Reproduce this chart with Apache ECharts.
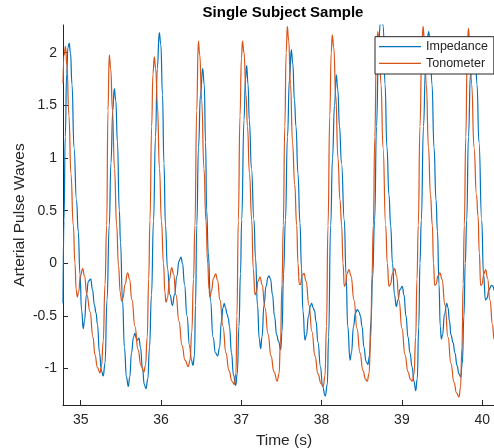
<!DOCTYPE html>
<html>
<head>
<meta charset="utf-8">
<script src="https://cdn.jsdelivr.net/npm/echarts@6/dist/echarts.min.js"></script>
<style>
html,body{margin:0;padding:0;background:#fff;}
#chart{width:494px;height:448px;}
</style>
</head>
<body>
<div id="chart"></div>
<script>
var seriesNames = ['Impedance', 'Tonometer'];
var xTicks = [35, 36, 37, 38, 39, 40];
var yTicks = [-1, -0.5, 0, 0.5, 1, 1.5, 2];

var impTime = [34.780,34.792,34.808,34.826,34.842,34.857,34.873,34.892,34.917,34.948,
34.970,34.991,35.012,35.032,35.047,35.072,35.097,35.125,35.147,35.172,
35.191,35.209,35.234,35.259,35.281,35.303,35.328,35.356,35.377,35.400,
35.418,35.437,35.458,35.481,35.496,35.521,35.545,35.570,35.593,35.611,
35.633,35.658,35.676,35.695,35.707,35.726,35.745,35.770,35.792,35.813,
35.836,35.857,35.882,35.907,35.932,35.954,35.979,35.998,36.019,36.037,
36.056,36.081,36.112,36.143,36.168,36.199,36.224,36.249,36.268,36.293,
36.324,36.355,36.380,36.398,36.417,36.430,36.446,36.467,36.492,36.519,
36.539,36.555,36.569,36.589,36.616,36.648,36.679,36.706,36.729,36.753,
36.772,36.788,36.803,36.822,36.838,36.853,36.878,36.903,36.930,36.950,
36.971,36.990,37.005,37.034,37.052,37.067,37.084,37.100,37.127,37.158,
37.177,37.202,37.224,37.242,37.258,37.283,37.308,37.333,37.345,37.364,
37.389,37.413,37.441,37.463,37.491,37.507,37.526,37.550,37.575,37.600,
37.623,37.641,37.662,37.681,37.706,37.731,37.750,37.768,37.793,37.812,
37.837,37.862,37.877,37.893,37.912,37.930,37.955,37.986,38.012,38.046,
38.071,38.087,38.113,38.136,38.161,38.183,38.202,38.223,38.248,38.283,
38.304,38.326,38.354,38.372,38.397,38.422,38.445,38.466,38.484,38.503,
38.528,38.553,38.578,38.596,38.615,38.634,38.661,38.684,38.709,38.730,
38.748,38.768,38.790,38.814,38.839,38.860,38.883,38.908,38.930,38.951,
38.976,39.005,39.026,39.051,39.076,39.101,39.126,39.151,39.172,39.191,
39.210,39.225,39.242,39.269,39.294,39.319,39.334,39.350,39.375,39.400,
39.425,39.443,39.462,39.478,39.491,39.506,39.531,39.558,39.574,39.593,
39.611,39.636,39.661,39.686,39.711,39.732,39.752,39.773,39.789,39.807,
39.829,39.854,39.879,39.894,39.913,39.935,39.960,39.994,40.016,40.041,
40.060,40.085,40.116,40.134,40.153,40.172];

var impValue = [-0.38,0.40,1.20,1.80,2.05,2.09,2.00,1.70,1.10,0.60,
0.30,-0.10,-0.45,-0.62,-0.55,-0.30,-0.17,-0.15,-0.25,-0.40,
-0.47,-0.58,-0.85,-1.02,-1.07,-0.95,-0.35,0.36,0.95,1.45,
1.66,1.55,1.15,0.50,0.20,-0.35,-0.80,-1.08,-1.17,-1.08,
-0.85,-0.70,-0.665,-0.72,-0.73,-0.71,-0.80,-1.00,-1.15,-1.19,
-1.10,-0.80,-0.30,0.40,1.20,1.85,2.19,2.08,1.60,0.95,
0.36,-0.05,-0.30,-0.40,-0.30,-0.12,0.02,0.06,0.00,-0.20,
-0.50,-0.78,-0.92,-0.97,-0.88,-0.40,0.36,1.10,1.60,1.85,
1.70,1.15,0.50,0.10,-0.35,-0.70,-0.85,-0.88,-0.80,-0.55,
-0.42,-0.38,-0.42,-0.48,-0.52,-0.60,-0.85,-1.06,-1.16,-1.05,
-0.60,-0.10,0.41,1.36,1.75,1.88,1.70,1.36,0.90,0.41,
0.05,-0.40,-0.72,-0.81,-0.70,-0.40,-0.22,-0.13,-0.12,-0.15,
-0.30,-0.50,-0.68,-0.74,-0.82,-0.65,-0.10,0.41,1.20,1.75,
2.03,1.90,1.55,1.30,0.85,0.38,-0.05,-0.45,-0.73,-0.68,
-0.50,-0.40,-0.38,-0.42,-0.45,-0.55,-0.75,-0.98,-1.17,-1.26,
-1.15,-0.70,0.36,1.00,1.50,1.79,1.65,1.30,0.95,0.41,
-0.10,-0.60,-0.92,-0.85,-0.60,-0.47,-0.44,-0.46,-0.50,-0.60,
-0.80,-0.93,-0.96,-0.88,-0.55,-0.15,0.41,1.30,2.00,2.28,
2.34,2.25,1.70,1.10,0.65,0.36,0.00,-0.30,-0.41,-0.35,
-0.25,-0.22,-0.30,-0.50,-0.70,-0.85,-0.98,-1.12,-1.21,-1.10,
-0.60,0.00,0.41,1.30,1.85,2.15,2.20,2.10,1.70,1.10,
0.60,0.30,-0.20,-0.60,-0.72,-0.68,-0.48,-0.38,-0.42,-0.55,
-0.68,-0.75,-0.85,-0.97,-1.05,-1.08,-0.95,-0.50,0.00,0.41,
1.20,1.80,2.10,2.15,2.05,1.70,1.15,0.41,-0.10,-0.35,
-0.33,-0.25,-0.21,-0.22,-0.26,-0.33];

var tonoTime = [34.780,34.795,34.811,34.829,34.854,34.879,34.908,34.929,34.944,34.958,
34.973,34.998,35.025,35.047,35.078,35.116,35.153,35.178,35.209,35.240,
35.259,35.281,35.303,35.324,35.340,35.356,35.374,35.396,35.421,35.448,
35.471,35.493,35.511,35.527,35.552,35.585,35.608,35.639,35.676,35.714,
35.751,35.788,35.807,35.829,35.847,35.863,35.884,35.900,35.917,35.934,
35.956,35.981,36.006,36.031,36.050,36.062,36.081,36.106,36.133,36.156,
36.187,36.224,36.262,36.299,36.340,36.361,36.384,36.405,36.423,36.445,
36.465,36.483,36.507,36.535,36.560,36.582,36.598,36.610,36.629,36.654,
36.681,36.704,36.735,36.772,36.809,36.847,36.884,36.913,36.934,36.946,
36.963,36.984,37.002,37.015,37.034,37.059,37.077,37.102,37.130,37.149,
37.171,37.189,37.208,37.233,37.258,37.295,37.333,37.370,37.407,37.448,
37.470,37.488,37.507,37.523,37.542,37.559,37.573,37.590,37.613,37.638,
37.665,37.690,37.706,37.722,37.737,37.756,37.781,37.806,37.843,37.880,
37.918,37.955,37.993,38.021,38.042,38.061,38.080,38.102,38.120,38.133,
38.152,38.176,38.204,38.229,38.250,38.267,38.283,38.298,38.316,38.341,
38.366,38.404,38.441,38.478,38.516,38.547,38.569,38.590,38.613,38.628,
38.644,38.663,38.681,38.699,38.717,38.740,38.765,38.798,38.818,38.839,
38.858,38.883,38.910,38.933,38.964,39.001,39.039,39.076,39.105,39.130,
39.151,39.172,39.188,39.204,39.225,39.247,39.263,39.281,39.304,39.331,
39.356,39.379,39.394,39.408,39.425,39.450,39.474,39.499,39.537,39.574,
39.611,39.649,39.680,39.711,39.730,39.748,39.763,39.777,39.796,39.813,
39.827,39.846,39.869,39.898,39.929,39.948,39.964,39.981,39.997,40.022,
40.043,40.066,40.097,40.128,40.147,40.172];

var tonoValue = [1.71,1.98,2.06,1.88,1.40,0.85,0.36,0.00,-0.25,-0.32,
-0.28,-0.12,-0.05,-0.12,-0.30,-0.46,-0.70,-0.87,-0.99,-1.04,
-0.98,-0.74,-0.20,0.36,1.45,1.98,1.85,1.45,0.90,0.36,
-0.02,-0.28,-0.36,-0.33,-0.20,-0.09,-0.15,-0.35,-0.60,-0.82,
-0.97,-1.03,-0.97,-0.70,-0.15,0.41,1.30,1.80,1.96,1.85,
1.50,0.90,0.40,0.00,-0.28,-0.37,-0.33,-0.15,-0.04,-0.10,
-0.30,-0.55,-0.78,-0.92,-0.98,-0.92,-0.65,-0.15,0.36,1.45,
2.11,1.98,1.55,0.90,0.40,0.00,-0.25,-0.32,-0.26,-0.14,
-0.10,-0.16,-0.35,-0.60,-0.85,-1.02,-1.12,-1.15,-1.05,-0.50,
0.40,1.40,1.95,2.11,2.00,1.60,1.30,0.85,0.41,-0.05,
-0.30,-0.27,-0.17,-0.13,-0.20,-0.42,-0.67,-0.88,-1.03,-1.12,
-1.05,-0.75,-0.20,0.36,1.30,2.00,2.25,2.12,1.70,1.15,
0.75,0.36,0.00,-0.20,-0.20,-0.12,-0.095,-0.17,-0.40,-0.65,
-0.88,-1.05,-1.14,-1.17,-1.07,-0.60,0.36,1.40,2.00,2.17,
2.05,1.60,1.00,0.60,0.36,0.00,-0.22,-0.20,-0.10,-0.06,
-0.12,-0.35,-0.62,-0.85,-1.02,-1.10,-1.12,-1.05,-0.70,-0.10,
0.36,1.20,1.95,2.20,2.08,1.70,1.10,0.36,0.00,-0.22,
-0.20,-0.10,-0.05,-0.12,-0.35,-0.62,-0.87,-1.03,-1.10,-1.12,
-1.05,-0.70,-0.15,0.36,1.30,2.00,2.25,2.12,1.70,1.10,
0.65,0.36,0.00,-0.21,-0.20,-0.12,-0.09,-0.15,-0.40,-0.70,
-0.95,-1.13,-1.23,-1.27,-1.18,-0.80,-0.20,0.36,1.20,1.95,
2.23,2.10,1.70,1.10,0.65,0.45,0.10,-0.21,-0.20,-0.10,
-0.06,-0.14,-0.35,-0.58,-0.72,-0.88];

function pairs(ts, vs) {
  var out = [];
  var n = Math.min(ts.length, vs.length);
  for (var i = 0; i < n; i++) out.push([ts[i], vs[i]]);
  return out;
}

var FONT = '"Liberation Sans", Arial, sans-serif';
var AX = '#262626';
var COLORS = ['#0072BD', '#D95319'];
var chart = echarts.init(document.getElementById('chart'), null, {renderer: 'canvas'});
chart.setOption({
  animation: false,
  backgroundColor: '#ffffff',
  textStyle: {fontFamily: FONT},
  graphic: [{
    type: 'text', x: 283, y: 13,
    style: {text: 'Single Subject Sample', font: 'bold 15px ' + FONT, fill: '#000',
            textAlign: 'center', textVerticalAlign: 'middle'}
  }],
  grid: {left: 63, right: 0, top: 25, bottom: 43, containLabel: false, outerBoundsMode: 'none'},
  legend: {
    data: [
      {name: seriesNames[0], icon: 'rect', itemStyle: {color: COLORS[0]}},
      {name: seriesNames[1], icon: 'rect', itemStyle: {color: COLORS[1]}}
    ],
    orient: 'vertical',
    left: 375, top: 36.7,
    padding: [3, 6, 3.7, 4],
    itemGap: 2.6,
    itemWidth: 42, itemHeight: 1.2,
    backgroundColor: '#ffffff',
    borderColor: AX, borderWidth: 1, borderRadius: 0,
    textStyle: {fontSize: 12.5, lineHeight: 14, color: AX, fontFamily: FONT}
  },
  xAxis: {
    type: 'value', min: 34.78, max: 40.147,
    name: 'Time (s)', nameLocation: 'middle', nameGap: 28, nameMoveOverlap: false,
    nameTextStyle: {fontSize: 15.5, color: AX, fontFamily: FONT, padding: [0, 0, 0, 11]},
    axisLine: {show: true, onZero: false, lineStyle: {color: AX, width: 1}},
    axisTick: {show: true, inside: true, length: 5, customValues: xTicks, lineStyle: {color: AX}},
    axisLabel: {customValues: xTicks, fontSize: 14, color: AX, margin: 8, fontFamily: FONT},
    splitLine: {show: false}
  },
  yAxis: {
    type: 'value', min: -1.3457, max: 2.263,
    name: 'Arterial Pulse Waves', nameLocation: 'middle', nameGap: 35, nameMoveOverlap: false,
    nameTextStyle: {fontSize: 15.5, color: AX, fontFamily: FONT},
    axisLine: {show: true, onZero: false, lineStyle: {color: AX, width: 1}},
    axisTick: {show: true, inside: true, length: 5, customValues: yTicks, lineStyle: {color: AX}},
    axisLabel: {customValues: yTicks, fontSize: 14, color: AX, margin: 6, fontFamily: FONT},
    splitLine: {show: false}
  },
  series: [
    {
      name: seriesNames[0], type: 'line', data: pairs(impTime, impValue),
      symbol: 'none', showSymbol: false, smooth: 0.5, smoothMonotone: 'x',
      lineStyle: {color: COLORS[0], width: 1.2}, itemStyle: {color: COLORS[0]}, z: 2
    },
    {
      name: seriesNames[1], type: 'line', data: pairs(tonoTime, tonoValue),
      symbol: 'none', showSymbol: false, smooth: 0.5, smoothMonotone: 'x',
      lineStyle: {color: COLORS[1], width: 1.2}, itemStyle: {color: COLORS[1]}, z: 3
    }
  ]
});
</script>
</body>
</html>
